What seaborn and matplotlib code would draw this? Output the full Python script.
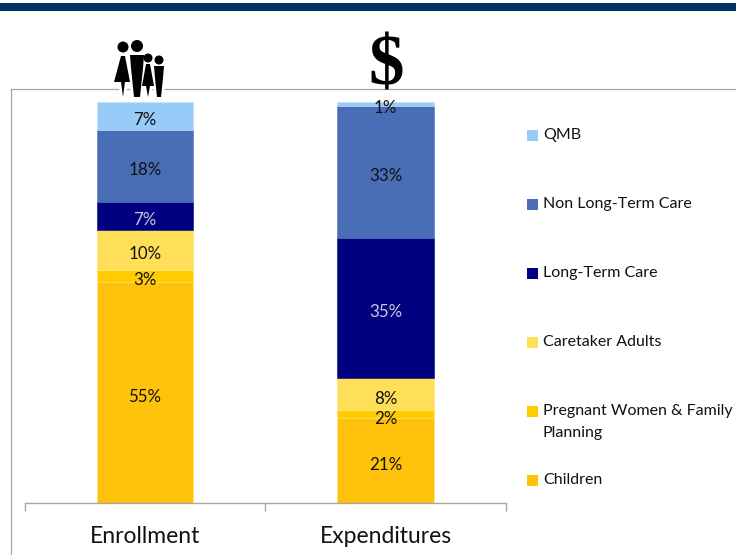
import matplotlib
matplotlib.use("Agg")
import matplotlib.pyplot as plt
from matplotlib.patches import Circle, Polygon, Rectangle
import pandas as pd
import seaborn as sns

categories = ["Enrollment", "Expenditures"]
series = ["Children", "Pregnant Women & Family\nPlanning", "Caretaker Adults",
          "Long-Term Care", "Non Long-Term Care", "QMB"]
children = [55, 21]
pregnant = [3, 2]
caretaker = [10, 8]
long_term = [7, 35]
non_long_term = [18, 33]
qmb = [7, 1]
values = [children, pregnant, caretaker, long_term, non_long_term, qmb]
colors = ["#FFC20A", "#FFCC00", "#FFDF57", "#000080", "#4A6EB5", "#99CBF8"]
edges = ["#FFE27A", "#FFE27A", "#FFE27A", "#000080", "#4A6EB5", "#C4E0FB"]
label_colors = ["#111111", "#111111", "#111111", "#C8C8D8", "#111111", "#111111"]

W, H = 736, 555
sns.set_theme(style="white")
plt.rcParams["font.family"] = ["Lato", "DejaVu Sans"]
fig = plt.figure(figsize=(W / 100, H / 100), dpi=100, facecolor="white")

# pixel overlay for decoration (band, frame, pictograms, legend)
ov = fig.add_axes([0, 0, 1, 1], zorder=0)
ov.set_xlim(0, W)
ov.set_ylim(H, 0)
ov.axis("off")
ov.add_patch(Rectangle((0, 3), W, 8, color="#003366", lw=0))
ov.plot([10.5, 10.5, W], [H, 88.5, 88.5], color="#A6A6A6", lw=0.9)

# plot axes
ax = fig.add_axes([24.5 / W, 1 - 502.5 / H, 481.5 / W, 400.5 / H], zorder=2)
ax.patch.set_alpha(0)
bottom = [0, 0]
for name, vals, col, edge, lc in zip(series, values, colors, edges, label_colors):
    df = pd.DataFrame({"cat": categories, "val": vals})
    sns.barplot(data=df, x="cat", y="val", ax=ax, color=col, width=0.4,
                bottom=bottom, saturation=1, edgecolor=edge, linewidth=0.4, zorder=2)
    for i, v in enumerate(vals):
        ax.annotate(f"{v}%", (i, bottom[i] + v / 2), xytext=(0, -3),
                    textcoords="offset points", ha="center", va="center",
                    fontsize=12.2, color=lc, zorder=5)
    bottom = [b + v for b, v in zip(bottom, vals)]

ax.set_xlim(-0.5, 1.5)
ax.set_ylim(0, 100)
ax.set_xlabel("")
ax.set_ylabel("")
ax.set_yticks([])
ax.set_xticks([-0.5, 0.5, 1.5])
ax.set_xticklabels([])
ax.set_xticks([0, 1], minor=True)
ax.set_xticklabels(categories, minor=True, fontsize=16.5, color="#111111")
ax.tick_params(axis="x", which="major", length=6, width=1, color="#A6A6A6", bottom=True)
ax.tick_params(axis="x", which="minor", length=0, pad=17, bottom=False)
for s in ["top", "left", "right"]:
    ax.spines[s].set_visible(False)
ax.spines["bottom"].set_color("#A6A6A6")
ax.spines["bottom"].set_linewidth(1)

# legend drawn entry by entry
leg_y = [479, 410, 341, 272, 203, 134]
for name, col, y in zip(series, colors, leg_y):
    ov.add_patch(Rectangle((527, y - 4), 11, 11, color=col, lw=0))
    ov.text(543, y - 6, name, ha="left", va="top", fontsize=11.5, color="#111111",
            linespacing=1.75)

# pictograms
def person(parts, z=3):
    for lw, c in ((4, "white"), (0, "black")):
        for p in parts:
            q = (Circle(p[0], p[1]) if len(p) == 2 and not isinstance(p[1], tuple)
                 else Polygon(p, closed=True))
            q.set(facecolor=c, edgecolor=c, linewidth=lw, zorder=z + (lw == 0))
            ov.add_patch(q)

person([((123, 47), 5.5), [(121, 56), (125, 56), (130, 82), (125, 82), (123, 97), (121, 82), (114, 82)]])
person([((137, 46), 6), [(130, 55), (144, 55), (143, 68), (140, 97), (134, 97), (131, 68)]])
person([((148, 58), 4.5), [(146, 64), (150, 64), (154, 86), (150, 86), (148, 97), (146, 86), (142, 86)]])
person([((159, 60), 4.5), [(154, 66), (164, 66), (163, 78), (161, 97), (157, 97), (155, 78)]])
ov.text(386, 67, "$", ha="center", va="center", fontsize=51, fontweight="bold",
        family="Liberation Serif", color="black", zorder=4)

fig.savefig("out.png", dpi=100, facecolor="white")
